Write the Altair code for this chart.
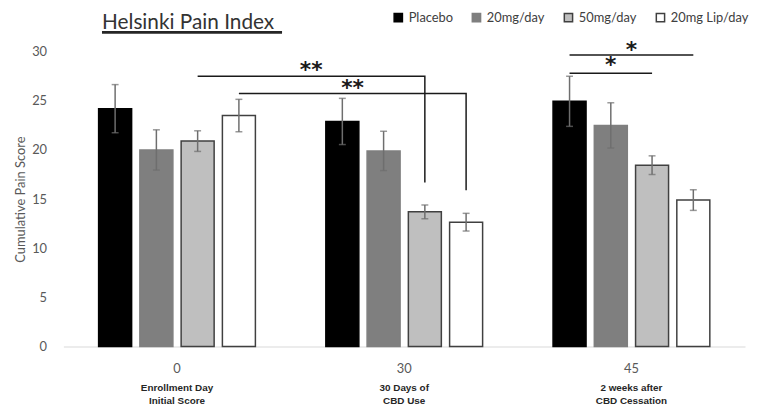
import altair as alt
import pandas as pd

# ---------------- data ----------------
categories = ["0", "30", "45"]
category_notes = ["Enrollment Day\nInitial Score", "30 Days of\nCBD Use", "2 weeks after\nCBD Cessation"]
series = ["Placebo", "20mg/day", "50mg/day", "20mg Lip/day"]

means_day0 = [24.2, 20.0, 20.9, 23.5]
means_day30 = [22.9, 19.9, 13.7, 12.65]
means_day45 = [24.95, 22.5, 18.45, 14.9]

sem_day0 = [2.45, 2.05, 1.05, 1.65]
sem_day30 = [2.35, 2.0, 0.7, 0.9]
sem_day45 = [2.55, 2.3, 0.95, 1.05]

y_ticks = [0, 5, 10, 15, 20, 25, 30]

# significance brackets
bracket_from_cat = ["0", "0", "45", "45"]
bracket_from_series = ["50mg/day", "20mg Lip/day", "Placebo", "Placebo"]
bracket_to_cat = ["30", "30", "45", "45"]
bracket_to_series = ["50mg/day", "20mg Lip/day", "50mg/day", "20mg Lip/day"]
bracket_level = [27.5, 25.75, 27.8, 29.67]
bracket_drop = [16.7, 15.9, None, None]
bracket_label = ["**", "**", "*", "*"]
label_level = [28.1, 26.3, 28.6, 30.2]

chart_title = "Helsinki Pain Index"

# ---------------- styling ----------------
fills = ["#000000", "#7f7f7f", "#bfbfbf", "#ffffff"]
strokes = ["#000000", "#7f7f7f", "#404040", "#404040"]
FONT = "Lato"
W, H = 689, 298
P_INNER = 0.31          # x band padding
Q_INNER = 0.2           # xOffset band padding

means = [means_day0, means_day30, means_day45]
sems = [sem_day0, sem_day30, sem_day45]
rows = []
for k, c in enumerate(categories):
    for j, s in enumerate(series):
        m, e = means[k][j], sems[k][j]
        rows.append({"cat": c, "series": s, "mean": m, "lo": m - e, "hi": m + e})
df = pd.DataFrame(rows)

notes_df = pd.DataFrame({"cat": categories, "note": category_notes})


def bar_center(cat, ser):
    """Centre of a bar in category units, following the band scales used below."""
    k = categories.index(cat)
    j = series.index(ser)
    step2 = (1 - P_INNER) / (len(series) - Q_INNER)
    return k + P_INNER / 2 + step2 * (j + (1 - Q_INNER) / 2)


line_rows, star_rows = [], []
for i in range(len(bracket_label)):
    x0 = bar_center(bracket_from_cat[i], bracket_from_series[i])
    x1 = bar_center(bracket_to_cat[i], bracket_to_series[i])
    line_rows.append({"id": i, "ord": 0, "x": x0, "y": bracket_level[i]})
    line_rows.append({"id": i, "ord": 1, "x": x1, "y": bracket_level[i]})
    if bracket_drop[i] is not None:
        line_rows.append({"id": i, "ord": 2, "x": x1, "y": bracket_drop[i]})
    star_rows.append({"x": (x0 + x1) / 2, "y": label_level[i], "label": bracket_label[i]})
lines_df = pd.DataFrame(line_rows)
stars_df = pd.DataFrame(star_rows)

# ---------------- encodings ----------------
x_axis = alt.Axis(title=None, labelAngle=0, ticks=False, domainColor="#d9d9d9",
                  domainWidth=1, labelColor="#595959", labelFontSize=13,
                  labelFont=FONT, labelPadding=16)
x_scale = alt.Scale(paddingInner=P_INNER, paddingOuter=P_INNER / 2)
xoff_scale = alt.Scale(paddingInner=Q_INNER, paddingOuter=0)


def xenc():
    return alt.X("cat:N", sort=categories, scale=x_scale, axis=x_axis)


def xoffenc():
    return alt.XOffset("series:N", sort=series, scale=xoff_scale)


y_scale = alt.Scale(domain=[0, 30], nice=False)
y_axis = alt.Axis(values=y_ticks, domain=False, ticks=False, grid=False,
                  labelColor="#595959", labelFontSize=13, labelFont=FONT,
                  labelPadding=17, title="Cumulative Pain Score",
                  titleFontSize=13, titleFont=FONT, titleFontWeight="normal",
                  titleColor="#595959", titlePadding=4)


def yenc(field):
    return alt.Y(field, scale=y_scale, axis=y_axis, title="Cumulative Pain Score")


legend = alt.Legend(orient="none", legendX=332, legendY=-41, direction="horizontal",
                    title=None, symbolType="square", symbolSize=70, symbolStrokeWidth=1.5,
                    labelFontSize=13, labelFont=FONT, labelColor="#404040",
                    columnPadding=16, labelOffset=4)

bars = alt.Chart(df).mark_bar(strokeWidth=1.5).encode(
    x=xenc(),
    xOffset=xoffenc(),
    y=yenc("mean:Q"),
    fill=alt.Fill("series:N", sort=series, scale=alt.Scale(domain=series, range=fills), legend=legend),
    stroke=alt.Stroke("series:N", sort=series, scale=alt.Scale(domain=series, range=strokes), legend=legend),
)

err = alt.Chart(df).mark_rule(color="#6e6e6e", strokeWidth=1.5).encode(
    x=xenc(), xOffset=xoffenc(), y=yenc("lo:Q"), y2="hi:Q")
cap_lo = alt.Chart(df).mark_tick(color="#6e6e6e", size=7, thickness=1.5, orient="horizontal").encode(
    x=xenc(), xOffset=xoffenc(), y=yenc("lo:Q"))
cap_hi = alt.Chart(df).mark_tick(color="#6e6e6e", size=7, thickness=1.5, orient="horizontal").encode(
    x=xenc(), xOffset=xoffenc(), y=yenc("hi:Q"))

notes = alt.Chart(notes_df).mark_text(baseline="top", lineBreak="\n", fontSize=10,
                                      fontWeight="bold", font="Liberation Sans",
                                      color="#262626", lineHeight=13).encode(
    x=xenc(), y=alt.value(H + 37), text="note:N")

main = alt.layer(bars, err, cap_lo, cap_hi, notes)

ax_scale = alt.Scale(domain=[0, len(categories)], nice=False, zero=False)
brackets = alt.Chart(lines_df).mark_line(color="#1a1a1a", strokeWidth=1.5).encode(
    x=alt.X("x:Q", scale=ax_scale, axis=None),
    y=yenc("y:Q"),
    detail="id:N", order="ord:Q")
stars = alt.Chart(stars_df).mark_text(fontSize=22, font="DejaVu Sans", fontWeight="bold",
                                      baseline="middle", color="#1a1a1a").encode(
    x=alt.X("x:Q", scale=ax_scale, axis=None),
    y=yenc("y:Q"),
    text="label:N")

title_df = pd.DataFrame({"t": [chart_title]})
title = alt.Chart(title_df).mark_text(align="left", baseline="alphabetic", fontSize=21,
                                      font=FONT, color="#333333").encode(
    x=alt.value(39), y=alt.value(-23), text="t:N")
underline = alt.Chart(title_df).mark_rule(color="#262626", strokeWidth=3).encode(
    x=alt.value(39), x2=alt.value(221), y=alt.value(-19.5))

annot = alt.layer(brackets, stars)

chart = alt.layer(main, annot, title, underline).resolve_scale(x="independent").properties(
    width=W, height=H,
    autosize=alt.AutoSizeParams(type="none"),
    padding={"left": 56, "top": 42, "right": 4, "bottom": 58},
).configure_view(stroke=None)

chart.save("out.html", embed_options={"renderer": "svg", "actions": False})
